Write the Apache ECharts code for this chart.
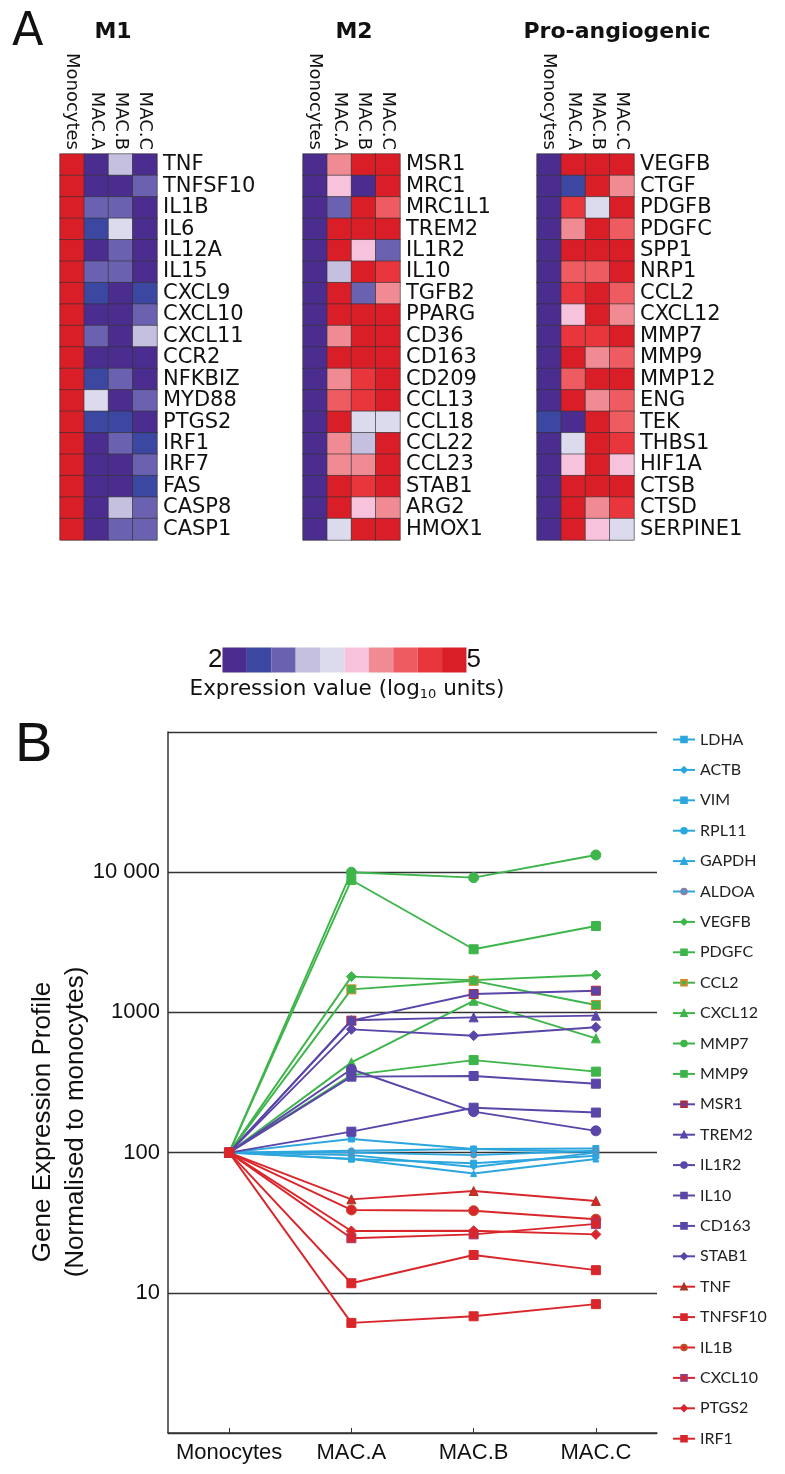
<!DOCTYPE html>
<html><head><meta charset="utf-8">
<script src="https://cdn.jsdelivr.net/npm/echarts@6/dist/echarts.min.js"></script>
<style>html,body{margin:0;padding:0;background:#fff}#c{width:785px;height:1474px}</style>
</head><body><div id="c"></div>
<script>
// ---------------- DATA ----------------
const heatCols = ['Monocytes', 'MAC.A', 'MAC.B', 'MAC.C'];

const m1Genes = ['TNF','TNFSF10','IL1B','IL6','IL12A','IL15','CXCL9','CXCL10','CXCL11','CCR2','NFKBIZ','MYD88','PTGS2','IRF1','IRF7','FAS','CASP8','CASP1'];
const m1Values = [
  [4.85,2.15,3.05,2.15],[4.85,2.15,2.15,2.75],[4.85,2.75,2.75,2.15],[4.85,2.45,3.35,2.15],
  [4.85,2.15,2.75,2.15],[4.85,2.75,2.75,2.15],[4.85,2.45,2.15,2.45],[4.85,2.15,2.15,2.75],
  [4.85,2.75,2.15,3.05],[4.85,2.15,2.15,2.15],[4.85,2.45,2.75,2.15],[4.85,3.35,2.15,2.75],
  [4.85,2.45,2.45,2.15],[4.85,2.15,2.75,2.45],[4.85,2.15,2.15,2.75],[4.85,2.15,2.15,2.45],
  [4.85,2.15,3.05,2.75],[4.85,2.15,2.75,2.75]
];

const m2Genes = ['MSR1','MRC1','MRC1L1','TREM2','IL1R2','IL10','TGFB2','PPARG','CD36','CD163','CD209','CCL13','CCL18','CCL22','CCL23','STAB1','ARG2','HMOX1'];
const m2Values = [
  [2.15,3.95,4.85,4.85],[2.15,3.65,2.15,4.85],[2.15,2.75,4.85,4.25],[2.15,4.85,4.85,4.85],
  [2.15,4.85,3.65,2.75],[2.15,3.05,4.85,4.55],[2.15,4.85,2.75,3.95],[2.15,4.85,4.85,4.85],
  [2.15,3.95,4.85,4.85],[2.15,4.85,4.85,4.85],[2.15,3.95,4.55,4.85],[2.15,4.25,4.55,4.85],
  [2.15,4.85,3.35,3.35],[2.15,3.95,3.05,4.85],[2.15,3.95,3.95,4.85],[2.15,4.85,4.55,4.85],
  [2.15,4.85,3.65,3.95],[2.15,3.35,4.85,4.85]
];

const angioGenes = ['VEGFB','CTGF','PDGFB','PDGFC','SPP1','NRP1','CCL2','CXCL12','MMP7','MMP9','MMP12','ENG','TEK','THBS1','HIF1A','CTSB','CTSD','SERPINE1'];
const angioValues = [
  [2.15,4.85,4.85,4.85],[2.15,2.45,4.85,3.95],[2.15,4.55,3.35,4.85],[2.15,3.95,4.85,4.25],
  [2.15,4.85,4.85,4.85],[2.15,4.25,4.25,4.85],[2.15,4.55,4.85,4.25],[2.15,3.65,4.85,3.95],
  [2.15,4.55,4.55,4.85],[2.15,4.85,3.95,4.25],[2.15,4.25,4.85,4.85],[2.15,4.85,3.95,4.25],
  [2.45,2.15,4.85,4.25],[2.15,3.35,4.85,4.55],[2.15,3.65,4.85,3.65],[2.15,4.85,4.85,4.85],
  [2.15,4.85,3.95,4.55],[2.15,4.85,3.65,3.35]
];

const scaleMin = 2, scaleMax = 5, scaleSteps = 10;

const lineCats = ['Monocytes', 'MAC.A', 'MAC.B', 'MAC.C'];
const lineGenes = ['LDHA','ACTB','VIM','RPL11','GAPDH','ALDOA',
  'VEGFB','PDGFC','CCL2','CXCL12','MMP7','MMP9',
  'MSR1','TREM2','IL1R2','IL10','CD163','STAB1',
  'TNF','TNFSF10','IL1B','CXCL10','PTGS2','IRF1'];
const lineValues = [
  [100,125,106,107],[100,96,79,100],[100,90,84,95],[100,103,106,101],[100,90,71,90],[100,100,96,103],
  [100,1800,1700,1850],[100,357,457,378],[100,1460,1680,1130],[100,440,1210,653],[100,10000,9140,13270],[100,8800,2820,4130],
  [100,873,1352,1428],[100,880,922,948],[100,393,196,143],[100,141,209,193],[100,348,352,310],[100,757,682,783],
  [100,46.4,53.2,45.2],[100,11.7,18.6,14.5],[100,39,38.5,33.5],[100,24.5,26.1,31],[100,27.6,27.7,26.1],[100,6.1,6.8,8.3]
];
const yTickLabels = {10:'10', 100:'100', 1000:'1000', 10000:'10 000'};

// ---------------- STYLE ----------------
const pieceColors = ['#4b2d8f','#3b47a0','#6a62b0','#c5c0e0','#dcdbee','#f6c2dc','#f18b93','#ee5c61','#e9363d','#d91e27'];
const groupColors = ['#2ba6de','#3db54a','#5a45a8','#d9262b'];
const symbols = ['rect','diamond','rect','circle','triangle','circle',
  'diamond','rect','rect','triangle','circle','rect',
  'rect','triangle','circle','rect','rect','diamond',
  'triangle','rect','circle','rect','diamond','rect'];
const borderCols = {ALDOA:'#8a7fa0', CCL2:'#d08a2a', MSR1:'#b3283a', TNF:'#9a3a22', IL1B:'#c0502a', CXCL10:'#9a3a7a'};

const HF = 'DejaVu Sans', LF = 'Liberation Sans';
const heatLefts = [60, 303, 537];
const heatGenes = [m1Genes, m2Genes, angioGenes];
const heatVals = [m1Values, m2Values, angioValues];

const grids = heatLefts.map(l => ({left: l, top: 154, width: 97, height: 386}));
grids.push({left: 168, top: 732, width: 489, height: 701});

const xAxes = heatLefts.map((l, i) => ({
  type: 'category', gridIndex: i, data: heatCols, position: 'top',
  axisLine: {show: false}, axisTick: {show: false},
  axisLabel: {rotate: 90, interval: 0, margin: 4, fontSize: 18, fontFamily: HF, color: '#111'}
}));
xAxes.push({
  type: 'category', gridIndex: 3, data: lineCats, boundaryGap: true,
  axisLine: {lineStyle: {color: '#333', width: 1.5}},
  axisTick: {show: true, inside: true, alignWithLabel: true, length: 5, lineStyle: {color: '#333'}},
  axisLabel: {interval: 0, hideOverlap: false, fontSize: 22, fontFamily: LF, color: '#111', margin: 9}
});

const yAxes = heatLefts.map((l, i) => ({
  type: 'category', gridIndex: i, data: heatGenes[i], inverse: true, position: 'right',
  axisLine: {show: false}, axisTick: {show: false},
  axisLabel: {interval: 0, margin: 6, fontSize: 21, fontFamily: HF, color: '#111'}
}));
yAxes.push({
  type: 'log', gridIndex: 3, logBase: 10, min: 1, max: 100000, splitNumber: 5,
  axisLine: {show: true, lineStyle: {color: '#333', width: 1.5}},
  axisTick: {show: false},
  splitLine: {show: true, lineStyle: {color: '#333', width: 1.3}},
  axisLabel: {fontSize: 22, fontFamily: LF, color: '#111', margin: 8,
    formatter: v => yTickLabels[Math.round(v)] || ''}
});

const heatSeries = heatVals.map((vals, i) => ({
  type: 'heatmap', xAxisIndex: i, yAxisIndex: i,
  data: vals.flatMap((row, r) => row.map((v, c) => [c, r, v])),
  itemStyle: {borderColor: 'rgba(50,50,50,0.8)', borderWidth: 0.8},
  emphasis: {disabled: true}
}));

const lineSeries = lineGenes.map((g, i) => {
  const grp = Math.floor(i / 6);
  const col = groupColors[grp];
  const sym = symbols[i];
  let size = grp === 0 ? 6 : (sym === 'circle' ? 10 : (sym === 'diamond' ? 10 : 9));
  return {
    type: 'line', name: g, xAxisIndex: 3, yAxisIndex: 3, data: lineValues[i],
    symbol: sym, symbolSize: size,
    lineStyle: {width: 1.9, color: col},
    itemStyle: {color: col, borderColor: borderCols[g] || col, borderWidth: 1},
    emphasis: {disabled: true}
  };
});

const pieces = pieceColors.map((c, k) => ({
  min: scaleMin + (scaleMax - scaleMin) * k / scaleSteps,
  max: scaleMin + (scaleMax - scaleMin) * (k + 1) / scaleSteps,
  color: c
}));

const option = {
  animation: false,
  backgroundColor: '#fff',
  grid: grids,
  xAxis: xAxes,
  yAxis: yAxes,
  visualMap: {
    type: 'piecewise', seriesIndex: [0, 1, 2], pieces: pieces,
    orient: 'horizontal', left: 208, top: 647, padding: 0,
    itemWidth: 24.4, itemHeight: 25, itemGap: 0, itemSymbol: 'rect',
    text: [String(scaleMax), String(scaleMin)], textGap: 4, selectedMode: false, hoverLink: false,
    textStyle: {fontSize: 26, fontFamily: LF, color: '#111'}
  },
  legend: {
    orient: 'vertical', left: 672, top: 731.5, padding: 0,
    itemWidth: 22, itemHeight: 7, itemGap: 14.4, selectedMode: false,
    data: lineGenes,
    textStyle: {fontSize: 16, lineHeight: 16, fontFamily: 'Lato', color: '#222'}
  },
  graphic: [
    {type: 'text', x: 12, y: 10, style: {text: 'A', fontSize: 46, fontFamily: HF, fill: '#111', verticalAlign: 'top'}},
    {type: 'text', x: 15, y: 718, style: {text: 'B', fontSize: 56, fontFamily: LF, fill: '#111', verticalAlign: 'top'}},
    {type: 'text', x: 113, y: 32, style: {text: 'M1', fontSize: 22, fontWeight: 'bold', fontFamily: HF, fill: '#111', align: 'center', verticalAlign: 'middle'}},
    {type: 'text', x: 354, y: 32, style: {text: 'M2', fontSize: 22, fontWeight: 'bold', fontFamily: HF, fill: '#111', align: 'center', verticalAlign: 'middle'}},
    {type: 'text', x: 617, y: 32, style: {text: 'Pro-angiogenic', fontSize: 22, fontWeight: 'bold', fontFamily: HF, fill: '#111', align: 'center', verticalAlign: 'middle'}},
    {type: 'text', x: 347, y: 689, style: {
      text: 'Expression value (log{sub|10} units)', fontSize: 21.5, fontFamily: HF, fill: '#111',
      align: 'center', verticalAlign: 'middle',
      rich: {sub: {fontSize: 13, fontFamily: HF, padding: [12, 0, 0, 0]}}}},
    {type: 'text', x: 59, y: 1122, rotation: Math.PI / 2, style: {
      text: 'Gene Expression Profile\n(Normalised to monocytes)', fontSize: 26, lineHeight: 33,
      fontFamily: LF, fill: '#111', align: 'center', verticalAlign: 'middle'}}
  ],
  series: heatSeries.concat(lineSeries)
};

const chart = echarts.init(document.getElementById('c'), null, {renderer: 'canvas'});
chart.setOption(option);
</script>
</body></html>
